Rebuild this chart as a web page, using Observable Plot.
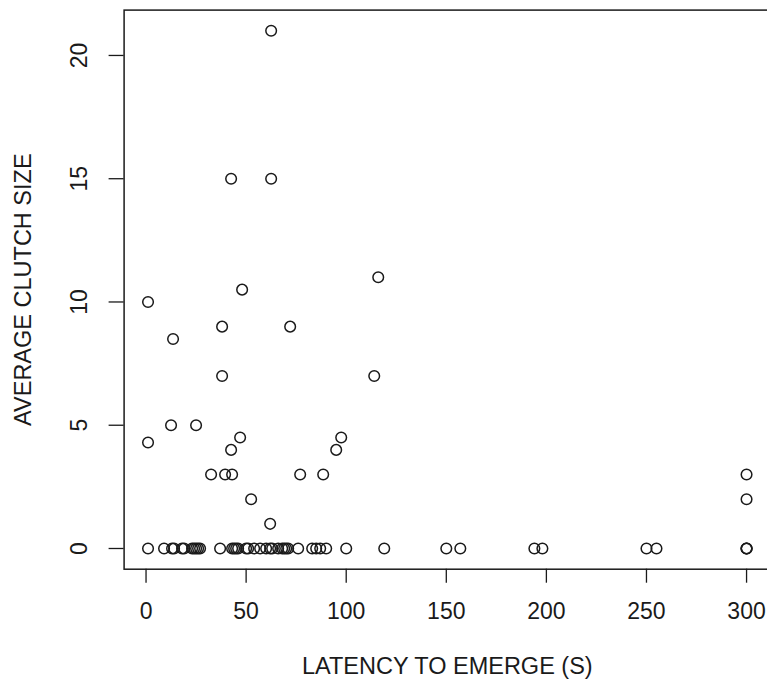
<!DOCTYPE html>
<html>
<head>
<meta charset="utf-8">
<script src="https://cdn.jsdelivr.net/npm/d3@7"></script>
<script src="https://cdn.jsdelivr.net/npm/@observablehq/plot@0.6"></script>
<style>
  html, body { margin: 0; padding: 0; background: #fff; overflow: hidden; }
  #chart svg { overflow: hidden; }
</style>
</head>
<body>
<div id="chart"></div>
<script>
// Non-zero clutch sizes
const latencyNZ = [1, 48, 116, 38, 72, 13.5, 38, 114, 12.5, 25, 1, 47, 42.5, 97.5, 95, 32.5, 39.5, 43, 77, 88.5, 52.5, 62, 62.5, 42.5, 62.5, 300, 300];
const clutchNZ  = [10, 10.5, 11, 9, 9, 8.5, 7, 7, 5, 5, 4.3, 4.5, 4, 4.5, 4, 3, 3, 3, 3, 3, 2, 1, 21, 15, 15, 3, 2];
// Zero clutch sizes
const latencyZero = [1, 9, 13, 14, 18, 19, 23, 24, 25, 26, 27, 37, 43, 44, 45, 46, 50, 51, 54, 57, 60, 62, 63, 66, 68, 69, 70, 71, 76, 83, 85, 87, 90, 100, 119, 150, 157, 194, 198, 250, 255, 300, 300, 300];

const xTicks = [0, 50, 100, 150, 200, 250, 300];
const yTicks = [0, 5, 10, 15, 20];
const xLabel = "LATENCY TO EMERGE (S)";
const yLabel = "AVERAGE CLUTCH SIZE";

const points = [
  ...latencyNZ.map((x, i) => ({latency: x, clutch: clutchNZ[i]})),
  ...latencyZero.map(x => ({latency: x, clutch: 0}))
];

const font = "'Liberation Sans', Arial, Helvetica, sans-serif";
const ink = "#1a1a1a";
const fs = 23;

const chart = Plot.plot({
  width: 767,
  height: 681,
  marginLeft: 123.6,
  marginRight: -3,
  marginTop: 9.6,
  marginBottom: 112.3,
  style: {fontFamily: font, color: ink, background: "#fff"},
  x: {domain: [-10.96, 311.96], range: [123.6, 770]},
  y: {domain: [-0.84, 21.84], range: [568.7, 9.6]},
  marks: [
    Plot.frame({stroke: ink, strokeWidth: 1.5}),
    Plot.axisX({ticks: xTicks, tickSize: 14, tickPadding: 19, fontSize: fs, label: null, stroke: ink, strokeWidth: 1.3, fill: ink}),
    Plot.axisY({ticks: yTicks, tickSize: 15, tickFormat: () => "", label: null, stroke: ink, strokeWidth: 1.3}),
    Plot.text(yTicks, {y: d => d, text: d => String(d), frameAnchor: "left", dx: -44, rotate: -90, fontSize: fs, fill: ink, textAnchor: "middle", lineAnchor: "middle"}),
    Plot.text([xLabel], {text: d => d, frameAnchor: "bottom", dy: 97, fontSize: 23.5, fill: ink, textAnchor: "middle", lineAnchor: "middle"}),
    Plot.text([yLabel], {text: d => d, frameAnchor: "left", dx: -101, rotate: -90, fontSize: 23.5, fill: ink, textAnchor: "middle", lineAnchor: "middle"}),
    Plot.dot(points, {x: "latency", y: "clutch", r: 5.3, stroke: ink, strokeWidth: 1.5, fill: "none"})
  ]
});
document.getElementById("chart").appendChild(chart);
</script>
</body>
</html>
